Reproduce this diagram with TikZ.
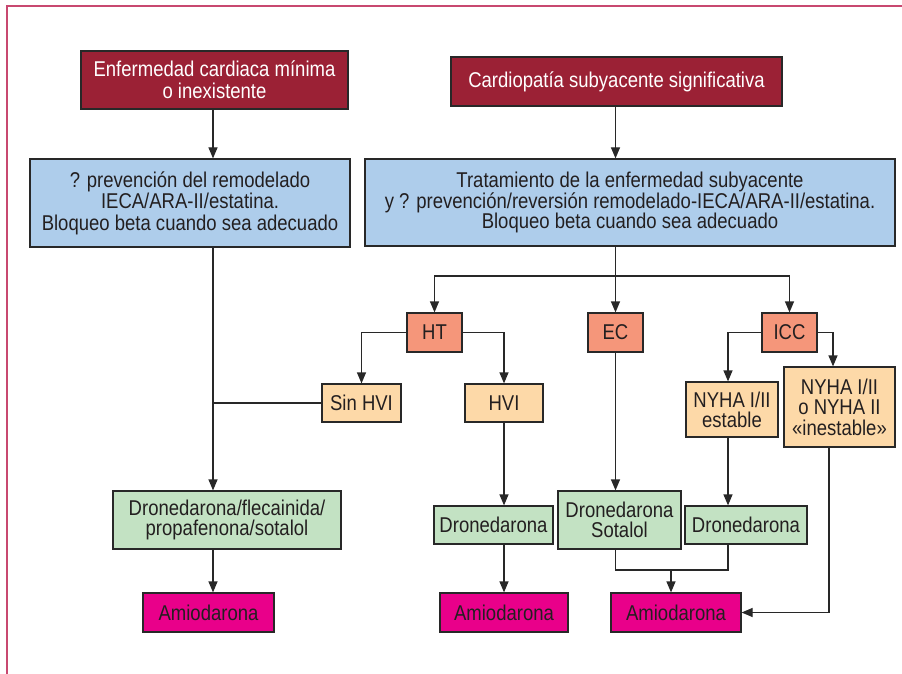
\documentclass[tikz,border=0pt]{standalone}
\usepackage{fontspec}
\setmainfont[FakeStretch=0.865]{Liberation Sans}
\usetikzlibrary{arrows.meta}
\definecolor{framecol}{RGB}{200,72,112}
\definecolor{darkred}{RGB}{155,33,53}
\definecolor{bluebox}{RGB}{174,205,235}
\definecolor{salmon}{RGB}{245,150,122}
\definecolor{peach}{RGB}{253,217,168}
\definecolor{greenbox}{RGB}{195,226,195}
\definecolor{magentabox}{RGB}{233,0,138}
\definecolor{linecol}{RGB}{40,40,40}
\definecolor{txt}{RGB}{35,31,32}
\tikzset{
  box/.style={draw=linecol, line width=1.2pt, inner sep=0pt, align=center, text=txt},
  redbox/.style={box, fill=darkred, text=white},
  bluebx/.style={box, fill=bluebox},
  salbx/.style={box, fill=salmon},
  peachbx/.style={box, fill=peach},
  greenbx/.style={box, fill=greenbox},
  magbx/.style={box, fill=magentabox},
  conn/.style={draw=linecol, line width=1.2pt},
  arr/.style={conn, -{Triangle[length=11pt,width=9pt]}}
}
\begin{document}
\begin{tikzpicture}[x=1pt,y=-1pt,font=\fontsize{21.4}{21.5}\selectfont]
\useasboundingbox (0,0) rectangle (902,674);
\draw[framecol, line width=1.2pt] (7,674) -- (7,6) -- (902,6);

% top boxes
\node[redbox, minimum width=267, minimum height=58, font=\fontsize{21.4}{22}\selectfont] (A) at (214.5,80) {Enfermedad cardiaca mínima\\o inexistente};
\node[redbox, minimum width=331, minimum height=49] (B) at (616.5,81.5) {Cardiopatía subyacente significativa};
\node[bluebx, minimum width=320, minimum height=88] (C) at (190,203) {? prevención del remodelado\\IECA/ARA-II/estatina.\\Bloqueo beta cuando sea adecuado};
\node[bluebx, minimum width=530, minimum height=87, font=\fontsize{21.4}{20.5}\selectfont] (D) at (630,202.5) {Tratamiento de la enfermedad subyacente\\y ? prevención/reversión remodelado-IECA/ARA-II/estatina.\\Bloqueo beta cuando sea adecuado};

% category boxes
\node[salbx, minimum width=55, minimum height=39] (HT) at (434.5,332.5) {HT};
\node[salbx, minimum width=55, minimum height=39] (EC) at (615.5,332.5) {EC};
\node[salbx, minimum width=55, minimum height=39] (ICC) at (789.5,332.5) {ICC};

\node[peachbx, minimum width=79, minimum height=38] (SinHVI) at (361.5,403) {Sin HVI};
\node[peachbx, minimum width=78, minimum height=38] (HVI) at (504,403) {HVI};
\node[peachbx, minimum width=92, minimum height=55, font=\fontsize{21.4}{20}\selectfont] (NY1) at (732,409.5) {NYHA I/II\\estable};
\node[peachbx, minimum width=111, minimum height=80, font=\fontsize{21.4}{20.5}\selectfont] (NY2) at (839.5,407) {NYHA I/II\\o NYHA II\\«inestable»};

% drug boxes
\node[greenbx, minimum width=228, minimum height=58, font=\fontsize{21.4}{20.5}\selectfont] (G1) at (227,520) {Dronedarona/flecainida/\\propafenona/sotalol};
\node[greenbx, minimum width=119, minimum height=38] (G2) at (493.5,525) {Dronedarona};
\node[greenbx, minimum width=123, minimum height=58, font=\fontsize{21.4}{20.5}\selectfont] (G3) at (619.5,520) {Dronedarona\\Sotalol};
\node[greenbx, minimum width=122, minimum height=38] (G4) at (746,525) {Dronedarona};

\node[magbx, minimum width=131, minimum height=39] (Am1) at (208.5,612.5) {Amiodarona};
\node[magbx, minimum width=128, minimum height=39] (Am2) at (504,612.5) {Amiodarona};
\node[magbx, minimum width=130, minimum height=39] (Am3) at (676,612.5) {Amiodarona};

% helper coordinates
\coordinate (xa) at (213,0);
\coordinate (br) at (615.5,276);
\coordinate (n1x) at (728,0);
\coordinate (n2x) at (833,0);
\coordinate (n3x) at (829,0);
\coordinate (m) at (671,570);

% left column
\draw[arr] (A.south -| xa) -- (C.north -| xa);
\draw[arr] (C.south -| xa) -- (G1.north -| xa);
\draw[conn] (SinHVI.west) -- (SinHVI.west -| xa);
\draw[arr] (G1.south -| xa) -- (Am1.north -| xa);

% right column
\draw[arr] (B.south -| EC) -- (D.north -| EC);
\draw[conn] (D.south -| EC) -- (br);
\draw[arr] (br) -- (EC.north);
\draw[arr] (br) -| (HT.north);
\draw[arr] (br) -| (ICC.north);

\draw[arr] (HT.west) -| (SinHVI.north);
\draw[arr] (HT.east) -| (HVI.north);
\draw[arr] (ICC.west) -| (n1x |- NY1.north);
\draw[arr] (ICC.east) -| (n2x |- NY2.north);

\draw[arr] (HVI.south) -- (HVI.south |- G2.north);
\draw[arr] (G2.south -| Am2) -- (Am2.north);
\draw[arr] (EC.south) -- (EC.south |- G3.north);
\draw[arr] (n1x |- NY1.south) -- (n1x |- G4.north);

\draw[conn] (G3.south -| EC) |- (m) -| (n1x |- G4.south);
\draw[arr] (m) -- (m |- Am3.north);
\draw[arr] (n3x |- NY2.south) |- (Am3.east);
\end{tikzpicture}
\end{document}
